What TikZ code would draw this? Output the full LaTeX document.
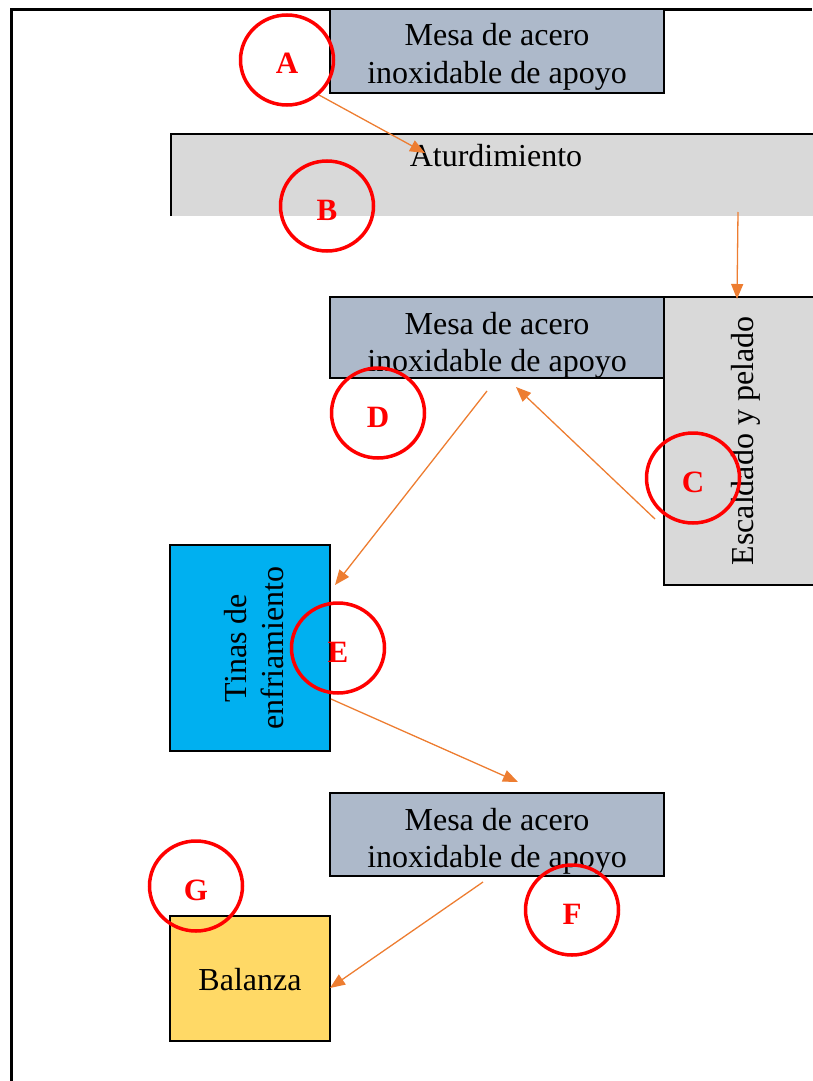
\documentclass[tikz,border=0pt]{standalone}
\usepackage{fontspec}
\setmainfont{Liberation Serif}
\usetikzlibrary{arrows.meta,shapes.geometric}
\definecolor{grismesa}{HTML}{ADB9CA}
\definecolor{grisclaro}{HTML}{D9D9D9}
\definecolor{celeste}{HTML}{00B0F0}
\definecolor{amarillo}{HTML}{FFD966}
\definecolor{naranja}{HTML}{ED7D31}
\tikzset{
  caja/.style={draw=black, line width=2.4pt, inner sep=0pt},
  texto/.style={font=\fontsize{32}{37}\selectfont, align=center, inner sep=0pt},
  marca/.style={draw=red, line width=3.5pt, ellipse, minimum width=93pt, minimum height=90pt,
    inner sep=0pt, text=red, text height=28pt, text depth=0pt, font=\fontsize{31}{31}\selectfont\bfseries},
  flecha/.style={draw=naranja, line width=1.3pt, -{Triangle[length=15pt,width=12pt]}}
}
\begin{document}
\begin{tikzpicture}[x=1pt,y=-1pt]
    \useasboundingbox (0,0) rectangle (812,1081);
    \draw [line width=3pt] (11,1081)--(11,10)--(812,10);
    \fill [grisclaro] (170,133) rectangle (830,216);
    \draw [line width=2.4pt] (171,216)--(171,134)--(830,134);
    \node (aturd) at (496,166) [texto, anchor=base] {Aturdimiento};
    \node (mesa1) at (497,51) [caja, fill=grismesa, minimum width=334pt, minimum height=84pt] {};
    \node (mesa2) at (497,337.5) [caja, fill=grismesa, minimum width=334pt, minimum height=81pt] {};
    \node (mesa3) at (497,834.5) [caja, fill=grismesa, minimum width=334pt, minimum height=83pt] {};
    \node (escal) at (764,441) [caja, fill=grisclaro, minimum width=200pt, minimum height=288pt] {};
    \node (tinas) at (250,648) [caja, fill=celeste, minimum width=160pt, minimum height=206pt] {};
    \node (balan) at (250,978.5) [caja, fill=amarillo, minimum width=160pt, minimum height=125pt] {};
    \node (tmesa1) at (497,83) [texto, anchor=base] {Mesa de acero\\inoxidable de apoyo};
    \node (tmesa2) at (497,371) [texto, anchor=base] {Mesa de acero\\inoxidable de apoyo};
    \node (tmesa3) at (497,867) [texto, anchor=base] {Mesa de acero\\inoxidable de apoyo};
    \node (tescal) at (753,441) [texto, anchor=base, rotate=90] {Escaldado y pelado};
    \node (ttinas) at (283,648) [texto, anchor=base, rotate=90] {Tinas de\\enfriamiento};
    \node (tbalan) at (250,990) [texto, anchor=base] {Balanza};
    \coordinate (p1) at (319,95);
    \coordinate (q1) at (425,153);
    \coordinate (p2) at (738,212);
    \coordinate (q2) at (737,299);
    \coordinate (p3) at (655,519);
    \coordinate (q3) at (516,387);
    \coordinate (p4) at (487,391);
    \coordinate (q4) at (335,585);
    \coordinate (p5) at (331,699);
    \coordinate (q5) at (518,782);
    \coordinate (p6) at (483,882);
    \coordinate (q6) at (330,988);
    \draw [flecha] (p1)--(q1);
    \draw [flecha] (p2)--(q2);
    \draw [flecha] (p3)--(q3);
    \draw [flecha] (p4)--(q4);
    \draw [flecha] (p5)--(q5);
    \draw [flecha] (p6)--(q6);
    \node (A) at (287,60) [marca] {A};
    \node (B) at (327,206) [marca] {B};
    \node (C) at (693,478) [marca] {C};
    \node (D) at (378,413) [marca] {D};
    \node (E) at (338,648) [marca] {E};
    \node (F) at (572,910) [marca] {F};
    \node (G) at (196,886) [marca] {G};
\end{tikzpicture}
\end{document}
